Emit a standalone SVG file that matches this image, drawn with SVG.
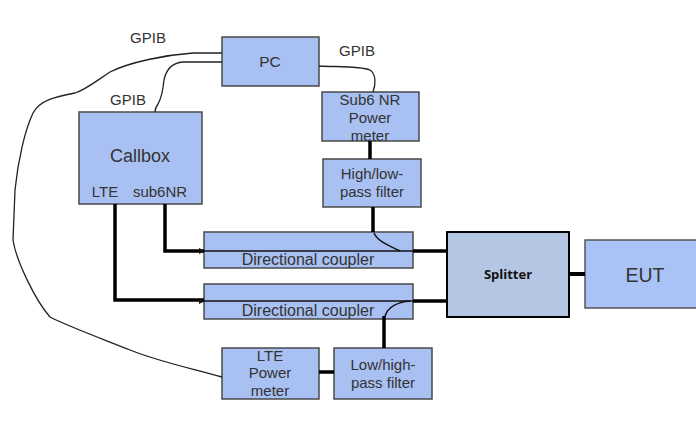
<svg xmlns="http://www.w3.org/2000/svg" width="696" height="435" viewBox="0 0 696 435">
<style>
.n{fill:#a9c0f2;stroke:#4a4a4a;stroke-width:1.5}
.t{font-family:"Liberation Sans",Arial,sans-serif;fill:#333;text-anchor:middle;font-size:15px}
.th{fill:none;stroke:#000;stroke-width:3.5}
.tn{fill:none;stroke:#111;stroke-width:1.5}
.cb{fill:none;stroke:#222;stroke-width:1.3}
</style>
<defs>
<marker id="ah" markerWidth="6" markerHeight="6" refX="1" refY="3" orient="auto" markerUnits="userSpaceOnUse">
<path d="M6,0 L0,3 L6,6 Z" fill="#111"/>
</marker>
</defs>
<rect width="696" height="435" fill="#fff"/>
<g id="pc"><rect class="n" x="222" y="37" width="97" height="49"/><text class="t" x="270" y="67" style="font-size:15.5px">PC</text></g>
<g id="callbox"><rect class="n" x="79" y="112" width="123" height="92"/><text class="t" x="140" y="162" style="font-size:18px">Callbox</text><text class="t" x="105" y="197">LTE</text><text class="t" x="160" y="197">sub6NR</text></g>
<g id="sub6pm"><rect class="n" x="322" y="92" width="97" height="49"/><text class="t" x="370" y="105">Sub6 NR</text><text class="t" x="370" y="123">Power</text><text class="t" x="370" y="141">meter</text></g>
<g id="hlfilter"><rect class="n" x="323" y="159" width="98" height="48"/><text class="t" x="372" y="179">High/low-</text><text class="t" x="372" y="197">pass filter</text></g>
<g id="dc1"><rect class="n" x="204" y="232" width="209" height="36"/><text class="t" x="308" y="265" style="font-size:16px">Directional coupler</text></g>
<g id="dc2"><rect class="n" x="204" y="284" width="209" height="35"/><text class="t" x="308" y="316" style="font-size:16px">Directional coupler</text></g>
<g id="ltepm"><rect class="n" x="222" y="348" width="97" height="51"/><text class="t" x="270" y="361">LTE</text><text class="t" x="270" y="378">Power</text><text class="t" x="270" y="396">meter</text></g>
<g id="lhfilter"><rect class="n" x="334" y="348" width="98" height="51"/><text class="t" x="383" y="370">Low/high-</text><text class="t" x="383" y="388">pass filter</text></g>
<g id="splitter"><rect x="447" y="232" width="122" height="85" fill="#b4c6e3" stroke="#000" stroke-width="2"/><text x="508" y="279" font-family="'Open Sans','Liberation Sans',sans-serif" font-weight="bold" font-size="13" text-anchor="middle" fill="#111">Splitter</text></g>
<g id="eut"><rect x="585" y="240" width="115" height="68" fill="#a9c3f6" stroke="#555" stroke-width="1.5"/><text class="t" x="645" y="282" style="font-size:19.5px">EUT</text></g>
<g id="connectors">
<path class="cb" d="M222,53 L193,53 C165,55 130,62 110,72 C95,82 85,90 75,93 C55,97 40,100 33,113 C25,130 18,160 15,190 L13,240 C16,260 35,300 50,317 C65,325 100,338 130,350 C160,362 190,368 222,377"/>
<path class="cb" d="M222,62 L183,62 C172,63 166,70 164,80 C163,90 162,97 158,104 C155,108 155,110 155,112"/>
<path class="cb" d="M319,66 C340,67 360,66 370,70 C376,74 376,84 373,92"/>
<path class="th" d="M370,141 L370,159"/>
<path class="th" d="M373,207 L373,232"/>
<path class="th" d="M165,204 L165,251 L204,251"/>
<path class="th" d="M115,204 L115,300 L204,300"/>
<path class="tn" d="M413,251 L204,251" marker-end="url(#ah)"/>
<path class="tn" d="M413,301 L204,301" marker-end="url(#ah)"/>
<path class="tn" d="M400,251 C390,246 378,242 374,233"/>
<path class="tn" d="M410,301 C398,302 388,307 385,316"/>
<path class="th" d="M413,251 L447,251"/>
<path class="th" d="M413,301 L447,301"/>
<path class="th" d="M384,316 L384,348"/>
<path class="th" d="M319,372 L334,372"/>
<path d="M569,274 L585,274" stroke="#000" stroke-width="4"/>
</g>
<g id="labels">
<text class="t" x="148" y="43">GPIB</text>
<text class="t" x="357" y="56">GPIB</text>
<text class="t" x="128" y="105">GPIB</text>
</g>
</svg>
